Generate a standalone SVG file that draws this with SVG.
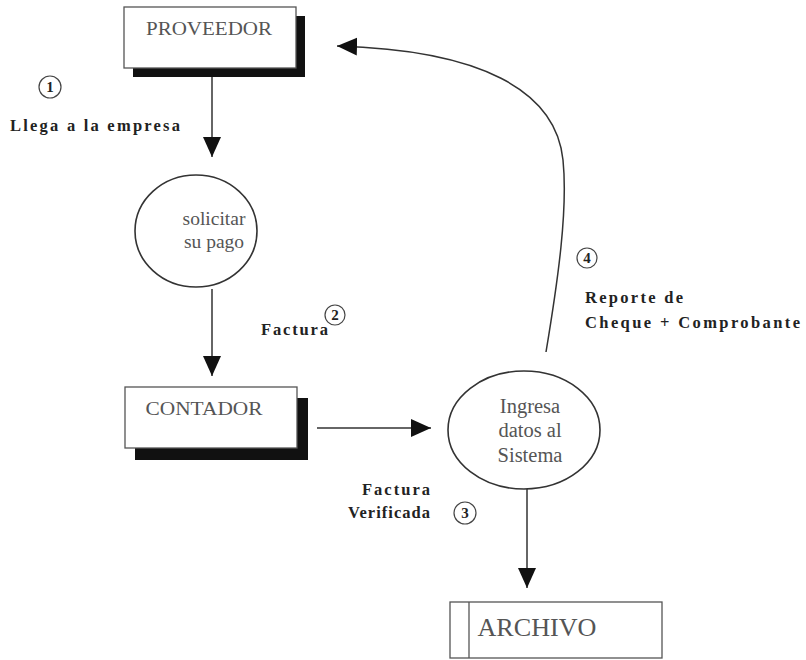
<svg xmlns="http://www.w3.org/2000/svg" width="806" height="660" viewBox="0 0 806 660">
<style>
.box{fill:#fff;stroke:#555;stroke-width:1.3}
.shadow{fill:#111}
.proc{fill:#fff;stroke:#333;stroke-width:1.6}
.node{font-family:"Liberation Serif",serif;fill:#555;text-anchor:middle}
.lbl{font-family:"Liberation Serif",serif;font-weight:bold;font-size:16.5px;fill:#222}
.num{font-family:"Liberation Serif",serif;font-weight:bold;font-size:15px;fill:#222;text-anchor:middle}
.numc{fill:#fff;stroke:#444;stroke-width:1.2}
.conn{fill:none;stroke:#333;stroke-width:1.5}
</style>
<defs>
<marker id="ah" markerUnits="userSpaceOnUse" markerWidth="22" markerHeight="20" refX="20" refY="9" orient="auto">
<path d="M0,0 L20,9 L0,18 Z" fill="#111"/>
</marker>
</defs>
<rect width="806" height="660" fill="#fff"/>
<g id="connectors">
<path class="conn" d="M212,77 L212,157" marker-end="url(#ah)"/>
<path class="conn" d="M212,289 L212,376" marker-end="url(#ah)"/>
<path class="conn" d="M317,428 L431,428" marker-end="url(#ah)"/>
<path class="conn" d="M527,489 L527,588" marker-end="url(#ah)"/>
<path class="conn" d="M546,352 C558,280 568,210 563,160 C556,90 480,50 337,46" marker-end="url(#ah)"/>
</g>
<g id="proveedor">
<rect class="shadow" x="133" y="16" width="172" height="61"/>
<rect class="box" x="124" y="7" width="172" height="61"/>
<text class="node" x="209" y="35" font-size="19" textLength="126" lengthAdjust="spacingAndGlyphs">PROVEEDOR</text>
</g>
<g id="solicitar">
<ellipse class="proc" cx="196" cy="231" rx="61" ry="56"/>
<text class="node" x="214" y="225" font-size="19.5">solicitar</text>
<text class="node" x="214" y="248" font-size="19.5">su pago</text>
</g>
<g id="contador">
<rect class="shadow" x="135" y="398" width="173" height="62"/>
<rect class="box" x="125" y="387" width="172" height="61"/>
<text class="node" x="204" y="415" font-size="19" textLength="117" lengthAdjust="spacingAndGlyphs">CONTADOR</text>
</g>
<g id="ingresa">
<ellipse class="proc" cx="524" cy="430" rx="76" ry="59"/>
<text class="node" x="530" y="413" font-size="20.5">Ingresa</text>
<text class="node" x="530" y="437" font-size="20.5">datos al</text>
<text class="node" x="530" y="462" font-size="20.5">Sistema</text>
</g>
<g id="archivo">
<rect class="box" x="450" y="602" width="212" height="56"/>
<line x1="469" y1="602" x2="469" y2="658" stroke="#555" stroke-width="1.3"/>
<text class="node" x="537" y="636" font-size="25" fill="#333" textLength="119" lengthAdjust="spacingAndGlyphs">ARCHIVO</text>
</g>
<g id="label1">
<circle class="numc" cx="50" cy="87" r="11"/>
<text class="num" x="50" y="92">1</text>
<text class="lbl" x="10" y="131" textLength="170" lengthAdjust="spacing">Llega a la empresa</text>
</g>
<g id="label2">
<circle class="numc" cx="335" cy="315" r="10"/>
<text class="num" x="335" y="320">2</text>
<text class="lbl" x="261" y="335" textLength="67" lengthAdjust="spacing">Factura</text>
</g>
<g id="label3">
<text class="lbl" x="430" y="495" text-anchor="end" textLength="68" lengthAdjust="spacing">Factura</text>
<text class="lbl" x="430" y="518" text-anchor="end" textLength="82" lengthAdjust="spacing">Verificada</text>
<circle class="numc" cx="465" cy="513" r="11"/>
<text class="num" x="465" y="518">3</text>
</g>
<g id="label4">
<circle class="numc" cx="587" cy="258" r="10"/>
<text class="num" x="587" y="263">4</text>
<text class="lbl" x="585" y="303" textLength="98" lengthAdjust="spacing">Reporte de</text>
<text class="lbl" x="585" y="328" textLength="215" lengthAdjust="spacing">Cheque + Comprobante</text>
</g>
</svg>
